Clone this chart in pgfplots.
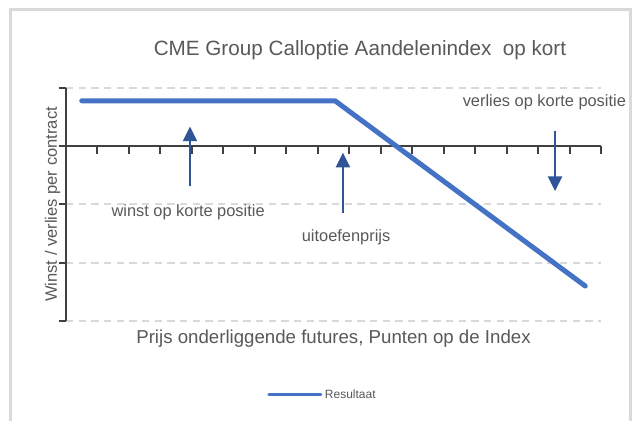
\documentclass[border=0pt]{standalone}
\usepackage{fontspec}
\setmainfont{Liberation Sans}
\usepackage{pgfplots}
\pgfplotsset{compat=1.18}
\usetikzlibrary{arrows.meta}
\definecolor{linecol}{HTML}{4472C4}
\definecolor{arrcol}{HTML}{2F5597}
\definecolor{txtcol}{HTML}{595959}
\definecolor{axcol}{HTML}{404040}
\definecolor{gridcol}{HTML}{D9D9D9}
\begin{document}
\begin{tikzpicture}
\begin{scope}[x=0.75pt,y=0.75pt]
\useasboundingbox (0,0) rectangle (636,421);
\fill[white] (0,0) rectangle (636,421);
\draw[gridcol, line width=2.25pt] (10,-5) -- (10,411) -- (630,411) -- (630,-5);
\end{scope}
\begin{axis}[
  at={(49.5pt,75pt)}, anchor=south west,
  scale only axis, width=401.25pt, height=174.75pt,
  xmin=0, xmax=17, ymin=-3, ymax=1,
  axis x line=middle, axis y line=left,
  axis line style={-, axcol, line width=1.5pt},
  xtick={0,...,17}, ytick={-3,...,1},
  xticklabels={}, yticklabels={},
  tick align=outside, major tick length=5.5pt,
  tick style={axcol, line width=1.5pt},
  ymajorgrids,
  major grid style={gridcol, line width=1.5pt, dash pattern=on 5.5pt off 4pt},
  title={CME Group Calloptie Aandelenindex\ \ op kort},
  title style={at={(axis description cs:0.5495,1.129)}, anchor=center, text=txtcol, font=\fontsize{15.5}{18}\selectfont},
  xlabel={Prijs onderliggende futures, Punten op de Index},
  xlabel style={at={(axis description cs:0.5,-0.078)}, anchor=center, text=txtcol, font=\fontsize{14}{16}\selectfont},
  ylabel={Winst / verlies per contract},
  ylabel style={at={(axis description cs:-0.025,0.5)}, anchor=center, text=txtcol, font=\fontsize{12.4}{14}\selectfont},
  legend style={at={(axis description cs:0.3757,-0.3176)}, anchor=west, draw=none, fill=none, inner sep=0pt,
    font=\fontsize{9}{10}\selectfont, text=txtcol, nodes={inner sep=2pt}},
  legend image code/.code={\draw[#1, line width=2.25pt] (0pt,0pt) -- (39pt,0pt);},
  clip=false,
]
\addplot[color=linecol, line width=3.75pt, line cap=round, line join=round]
  coordinates {(0.5,0.78) (8.55,0.78) (16.5,-2.4)};
\addlegendentry{Resultaat}
\node[text=txtcol, font=\fontsize{12.3}{14}\selectfont] at (axis cs:3.88,-1.14) {winst op korte positie};
\node[text=txtcol, font=\fontsize{12.3}{14}\selectfont] at (axis cs:8.9,-1.57) {uitoefenprijs};
\node[text=txtcol, font=\fontsize{12.3}{14}\selectfont] at (axis cs:15.2,0.75) {verlies op korte positie};
\draw[arrcol, line width=1.5pt, -{Triangle[width=10.5pt,length=11pt]}] (axis cs:3.94,-0.69) -- (axis cs:3.94,0.34);
\draw[arrcol, line width=1.5pt, -{Triangle[width=10.5pt,length=11pt]}] (axis cs:8.80,-1.14) -- (axis cs:8.80,-0.11);
\draw[arrcol, line width=1.5pt, -{Triangle[width=10.5pt,length=11pt]}] (axis cs:15.54,0.26) -- (axis cs:15.54,-0.77);
\end{axis}
\end{tikzpicture}
\end{document}
